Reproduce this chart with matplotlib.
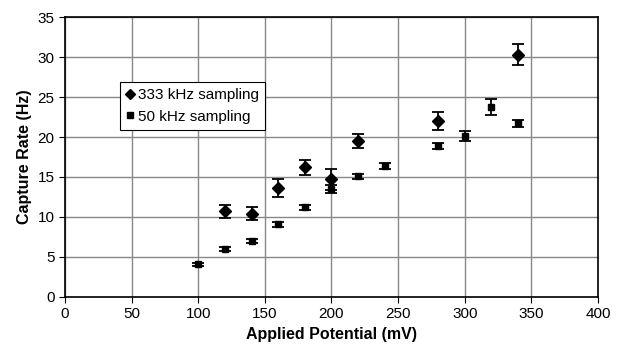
import matplotlib
matplotlib.use("Agg")
import matplotlib.pyplot as plt
from matplotlib.lines import Line2D

plt.rcParams['font.family'] = ['Liberation Sans', 'DejaVu Sans']

# 333 kHz sampling
x_fast = [120, 140, 160, 180, 200, 220, 280, 340]
y_fast = [10.7, 10.4, 13.6, 16.2, 14.7, 19.5, 22.0, 30.3]
e_fast = [0.8, 0.8, 1.1, 0.9, 1.3, 0.9, 1.1, 1.3]

# 50 kHz sampling
x_slow = [100, 120, 140, 160, 180, 200, 220, 240, 280, 300, 320, 340]
y_slow = [4.1, 6.0, 7.0, 9.1, 11.2, 13.5, 15.1, 16.4, 18.9, 20.1, 23.7, 21.7]
e_slow = [0.2, 0.3, 0.3, 0.3, 0.3, 0.5, 0.3, 0.4, 0.4, 0.6, 1.0, 0.4]

fig = plt.figure(figsize=(6.19, 3.56), dpi=100)
ax = fig.add_axes([0.105, 0.166, 0.861, 0.786])

ax.errorbar(x_fast, y_fast, yerr=e_fast, fmt='D', color='black', ms=6,
            capsize=4, elinewidth=1.3, capthick=1.3)
ax.errorbar(x_slow, y_slow, yerr=e_slow, fmt='s', color='black', ms=5,
            capsize=4, elinewidth=1.3, capthick=1.3)

ax.set_xlim(0, 400)
ax.set_ylim(0, 35)
ax.set_xticks(range(0, 401, 50))
ax.set_yticks(range(0, 36, 5))
ax.grid(True, color='#888888', linewidth=1)
ax.set_axisbelow(True)
ax.tick_params(labelsize=11, length=4, direction='out')
for s in ax.spines.values():
    s.set_linewidth(1.2)

ax.set_xlabel('Applied Potential (mV)', fontsize=11.5, fontweight='bold')
ax.set_ylabel('Capture Rate (Hz)', fontsize=11.5, fontweight='bold')

handles = [Line2D([], [], marker='D', color='black', ls='none', ms=5),
           Line2D([], [], marker='s', color='black', ls='none', ms=4)]
leg = ax.legend(handles, ['333 kHz sampling', '50 kHz sampling'],
                loc='upper left', bbox_to_anchor=(0.103, 0.768), fontsize=11,
                handlelength=0.5, handletextpad=0.3, borderpad=0.4,
                borderaxespad=0, fancybox=False, edgecolor='black',
                framealpha=1)
leg.get_frame().set_linewidth(0.8)

fig.savefig('out.png', dpi=100)
